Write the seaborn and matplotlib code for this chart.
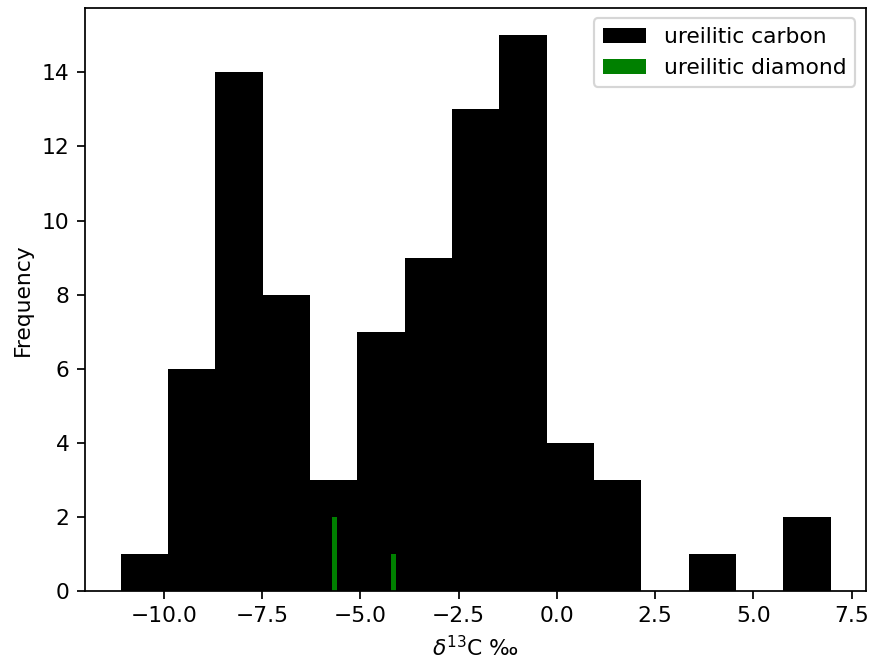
import numpy as np
import pandas as pd
import matplotlib
matplotlib.use('Agg')
import matplotlib.pyplot as plt
import seaborn as sns

# ureilitic carbon, counts per bin (15 equal bins over the data range)
carbon_counts = [1, 6, 14, 8, 3, 7, 9, 13, 15, 4, 3, 0, 1, 0, 2]
carbon_range = (-11.1, 6.96)

# ureilitic diamond, individual d13C values
diamond_values = [-5.72, -5.72, -4.09]
diamond_bins = 13

n_bins = len(carbon_counts)
edges = np.linspace(carbon_range[0], carbon_range[1], n_bins + 1)
carbon = pd.DataFrame({'d13C': (edges[:-1] + edges[1:]) / 2,
                       'count': carbon_counts})

fig = plt.figure(figsize=(869 / 157, 659 / 157), dpi=157)
ax = fig.add_axes([85 / 869, 1 - 591 / 659, (866 - 85) / 869, (591 - 7.5) / 659])

# no antialiasing so neighbouring bars don't show seams
sns.histplot(data=carbon, x='d13C', weights='count', bins=n_bins,
             binrange=carbon_range, color='black', alpha=1, linewidth=0,
             antialiased=False, label='ureilitic carbon', ax=ax)
sns.histplot(x=diamond_values, bins=diamond_bins, color='green',
             alpha=1, linewidth=0, label='ureilitic diamond', ax=ax)

ax.set_xlabel(r'$\delta^{13}$C ‰')
ax.set_ylabel('Frequency')
ax.legend(loc='upper right')

fig.savefig('out.png', dpi=157)
